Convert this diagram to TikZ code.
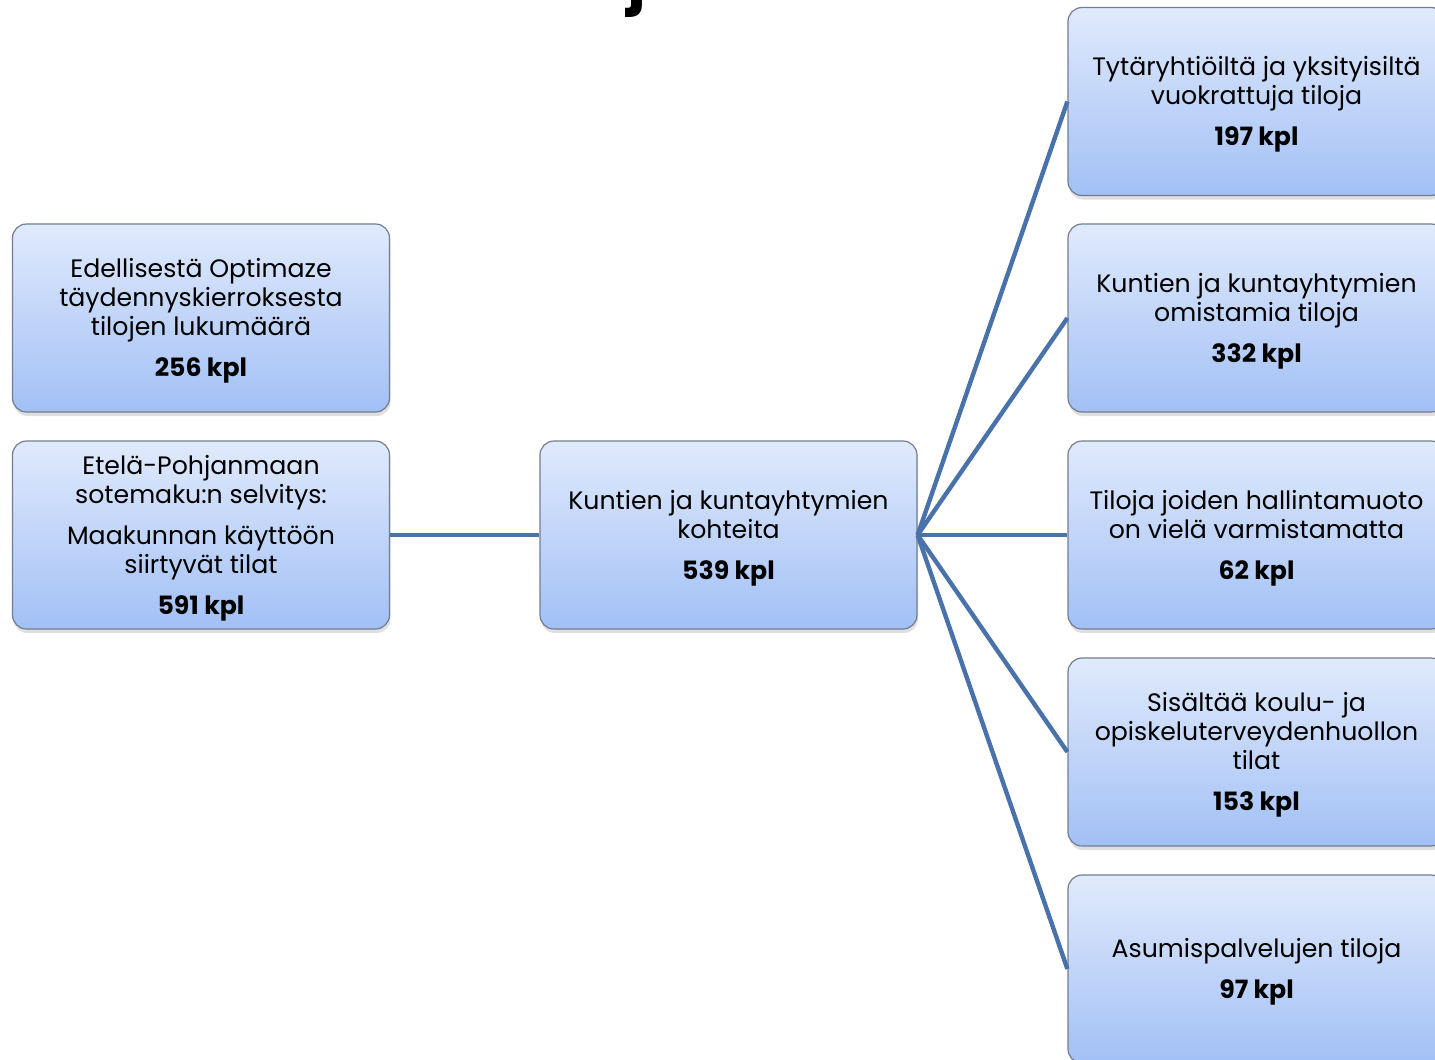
\documentclass[tikz,border=0pt]{standalone}
\usepackage{fontspec}
\setmainfont{Poppins}
\usetikzlibrary{shadows}
\definecolor{boxtop}{RGB}{224,234,252}
\definecolor{boxbot}{RGB}{162,192,245}
\definecolor{boxline}{RGB}{115,125,145}
\definecolor{linkc}{RGB}{74,114,170}
\begin{document}
\begin{tikzpicture}[x=0.5pt,y=-0.5pt,
  card/.style={draw=boxline, line width=0.6pt, rounded corners=7pt,
    top color=boxtop, bottom color=boxbot,
    minimum width=188.5pt, minimum height=94pt, inner sep=0pt,
    drop shadow={shadow xshift=0.5pt, shadow yshift=-2pt, opacity=0.25}},
  cardtext/.style={align=center, inner sep=0pt,
    font=\fontsize{12.6}{14.5}\selectfont},
  link/.style={draw=linkc, line width=2.2pt}]
\useasboundingbox (0,0) rectangle (1435,1060);
\clip (0,0) rectangle (1435,1060);
\fill[white] (0,0) rectangle (1435,1060);
\node[font=\fontsize{32}{32}\selectfont\bfseries, anchor=base] (title) at (637,1) {j};
\node[card] (prev) at (201,318) {};
\node[card] (sote) at (201,535) {};
\node[card] (mun) at (728.5,535) {};
\node[card] (r1) at (1256.5,101.5) {};
\node[card] (r2) at (1256.5,318) {};
\node[card] (r3) at (1256.5,535) {};
\node[card] (r4) at (1256.5,752) {};
\node[card] (r5) at (1256.5,969) {};
\node[cardtext] (prevt) at ([yshift=-1.5pt]prev.center) {Edellisestä Optimaze\\täydennyskierroksesta\\tilojen lukumäärä\\[6pt]\textbf{256 kpl}};
\node[cardtext] (sotet) at ([yshift=-1.5pt]sote.center) {Etelä-Pohjanmaan\\sotemaku:n selvitys:\\[6pt]Maakunnan käyttöön\\siirtyvät tilat\\[6pt]\textbf{591 kpl}};
\node[cardtext] (munt) at ([yshift=-1.5pt]mun.center) {Kuntien ja kuntayhtymien\\kohteita\\[6pt]\textbf{539 kpl}};
\node[cardtext] (r1t) at ([yshift=-1.5pt]r1.center) {Tytäryhtiöiltä ja yksityisiltä\\vuokrattuja tiloja\\[6pt]\textbf{197 kpl}};
\node[cardtext] (r2t) at ([yshift=-1.5pt]r2.center) {Kuntien ja kuntayhtymien\\omistamia tiloja\\[6pt]\textbf{332 kpl}};
\node[cardtext] (r3t) at ([yshift=-1.5pt]r3.center) {Tiloja joiden hallintamuoto\\on vielä varmistamatta\\[6pt]\textbf{62 kpl}};
\node[cardtext] (r4t) at ([yshift=-1.5pt]r4.center) {Sisältää koulu- ja\\opiskeluterveydenhuollon\\tilat\\[6pt]\textbf{153 kpl}};
\node[cardtext] (r5t) at ([yshift=-1.5pt]r5.center) {Asumispalvelujen tiloja\\[6pt]\textbf{97 kpl}};
\draw[link] (sote.east) -- (mun.west);
\foreach \r in {r1,r2,r3,r4,r5}
  \draw[link] (mun.east) -- (\r.west);
\end{tikzpicture}
\end{document}
